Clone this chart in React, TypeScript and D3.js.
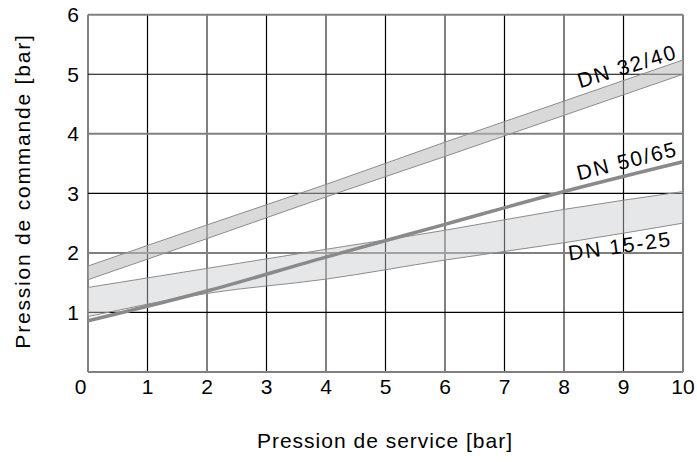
import React from "react";
import * as d3 from "d3";

const xTicks = [0, 1, 2, 3, 4, 5, 6, 7, 8, 9, 10];
const yTicks = [1, 2, 3, 4, 5, 6];
const gridY = [0, 1, 2, 3, 4, 5, 6];

const xService = [0, 2, 4, 6, 8, 10];
const dn3240Upper = [1.78, 2.47, 3.15, 3.86, 4.55, 5.24];
const dn3240Lower = [1.55, 2.24, 2.94, 3.62, 4.31, 5.0];
const dn5065 = [0.86, 1.36, 1.93, 2.48, 3.03, 3.53];
const dn1525Upper = [1.42, 1.74, 2.06, 2.38, 2.73, 3.03];
const dn1525Lower = [0.93, 1.32, 1.56, 1.88, 2.17, 2.5];

const labels = [
  { text: "DN 32/40", x: 9.06, y: 5.14, angle: -17 },
  { text: "DN 50/65", x: 9.06, y: 3.55, angle: -14 },
  { text: "DN 15-25", x: 8.94, y: 2.12, angle: -8 },
];

const W = 697;
const H = 462;
const FONT = "'Liberation Sans', Arial, Helvetica, sans-serif";

export default function App() {
  const x = d3.scaleLinear().domain([0, 10]).range([88, 683]);
  const y = d3.scaleLinear().domain([0, 6]).range([372, 14.7]);

  const band = (up: number[], lo: number[]) =>
    d3
      .area<number>()
      .x((_, i) => x(xService[i]))
      .y0((_, i) => y(lo[i]))
      .y1((_, i) => y(up[i]))
      .curve(d3.curveMonotoneX)(up) || "";

  const line = (vals: number[]) =>
    d3
      .line<number>()
      .x((_, i) => x(xService[i]))
      .y((d) => y(d))
      .curve(d3.curveMonotoneX)(vals) || "";

  return (
    <svg
      width={W}
      height={H}
      style={{ position: "absolute", left: 0, top: 0, background: "#fff" }}
      fontFamily={FONT}
    >
      {xTicks.map((t) => (
        <line
          key={"gx" + t}
          x1={x(t)}
          x2={x(t)}
          y1={y(0)}
          y2={y(6)}
          stroke={t % 2 === 0 ? "#808080" : "#000"}
          strokeWidth={t % 2 === 0 ? 2 : 1.2}
        />
      ))}
      {gridY.map((t) => (
        <line
          key={"gy" + t}
          x1={x(0)}
          x2={x(10)}
          y1={y(t)}
          y2={y(t)}
          stroke={t % 2 === 0 ? "#808080" : "#000"}
          strokeWidth={t % 2 === 0 ? 2 : 1.2}
        />
      ))}

      <path
        d={band(dn3240Upper, dn3240Lower)}
        fill="rgb(185,185,185)"
        fillOpacity={0.55}
        stroke="#8c8c8c"
        strokeWidth={1}
      />
      <path
        d={band(dn1525Upper, dn1525Lower)}
        fill="rgb(200,202,206)"
        fillOpacity={0.45}
        stroke="#8c8c8c"
        strokeWidth={1}
      />
      <path d={line(dn5065)} fill="none" stroke="#8a8a8a" strokeWidth={3.5} />

      {xTicks.map((t) => (
        <text
          key={"xl" + t}
          x={t === 0 ? x(t) - 1.5 : x(t)}
          y={394}
          textAnchor={t === 0 ? "end" : "middle"}
          fontSize={21}
          fill="#000"
        >
          {t}
        </text>
      ))}
      {yTicks.map((t) => (
        <text
          key={"yl" + t}
          x={79}
          y={y(t)}
          dy="0.36em"
          textAnchor="end"
          fontSize={21}
          fill="#000"
        >
          {t}
        </text>
      ))}

      {labels.map((l) => (
        <text
          key={l.text}
          transform={`translate(${x(l.x)},${y(l.y)}) rotate(${l.angle})`}
          dy="0.36em"
          textAnchor="middle"
          fontSize={21}
          letterSpacing={1.8}
          fill="#000"
        >
          {l.text}
        </text>
      ))}

      <text
        x={385}
        y={448}
        textAnchor="middle"
        fontSize={21}
        letterSpacing={1}
        fill="#000"
      >
        Pression de service [bar]
      </text>
      <text
        transform={`translate(30,191) rotate(-90)`}
        textAnchor="middle"
        fontSize={21}
        letterSpacing={1.8}
        fill="#000"
      >
        Pression de commande [bar]
      </text>
    </svg>
  );
}
